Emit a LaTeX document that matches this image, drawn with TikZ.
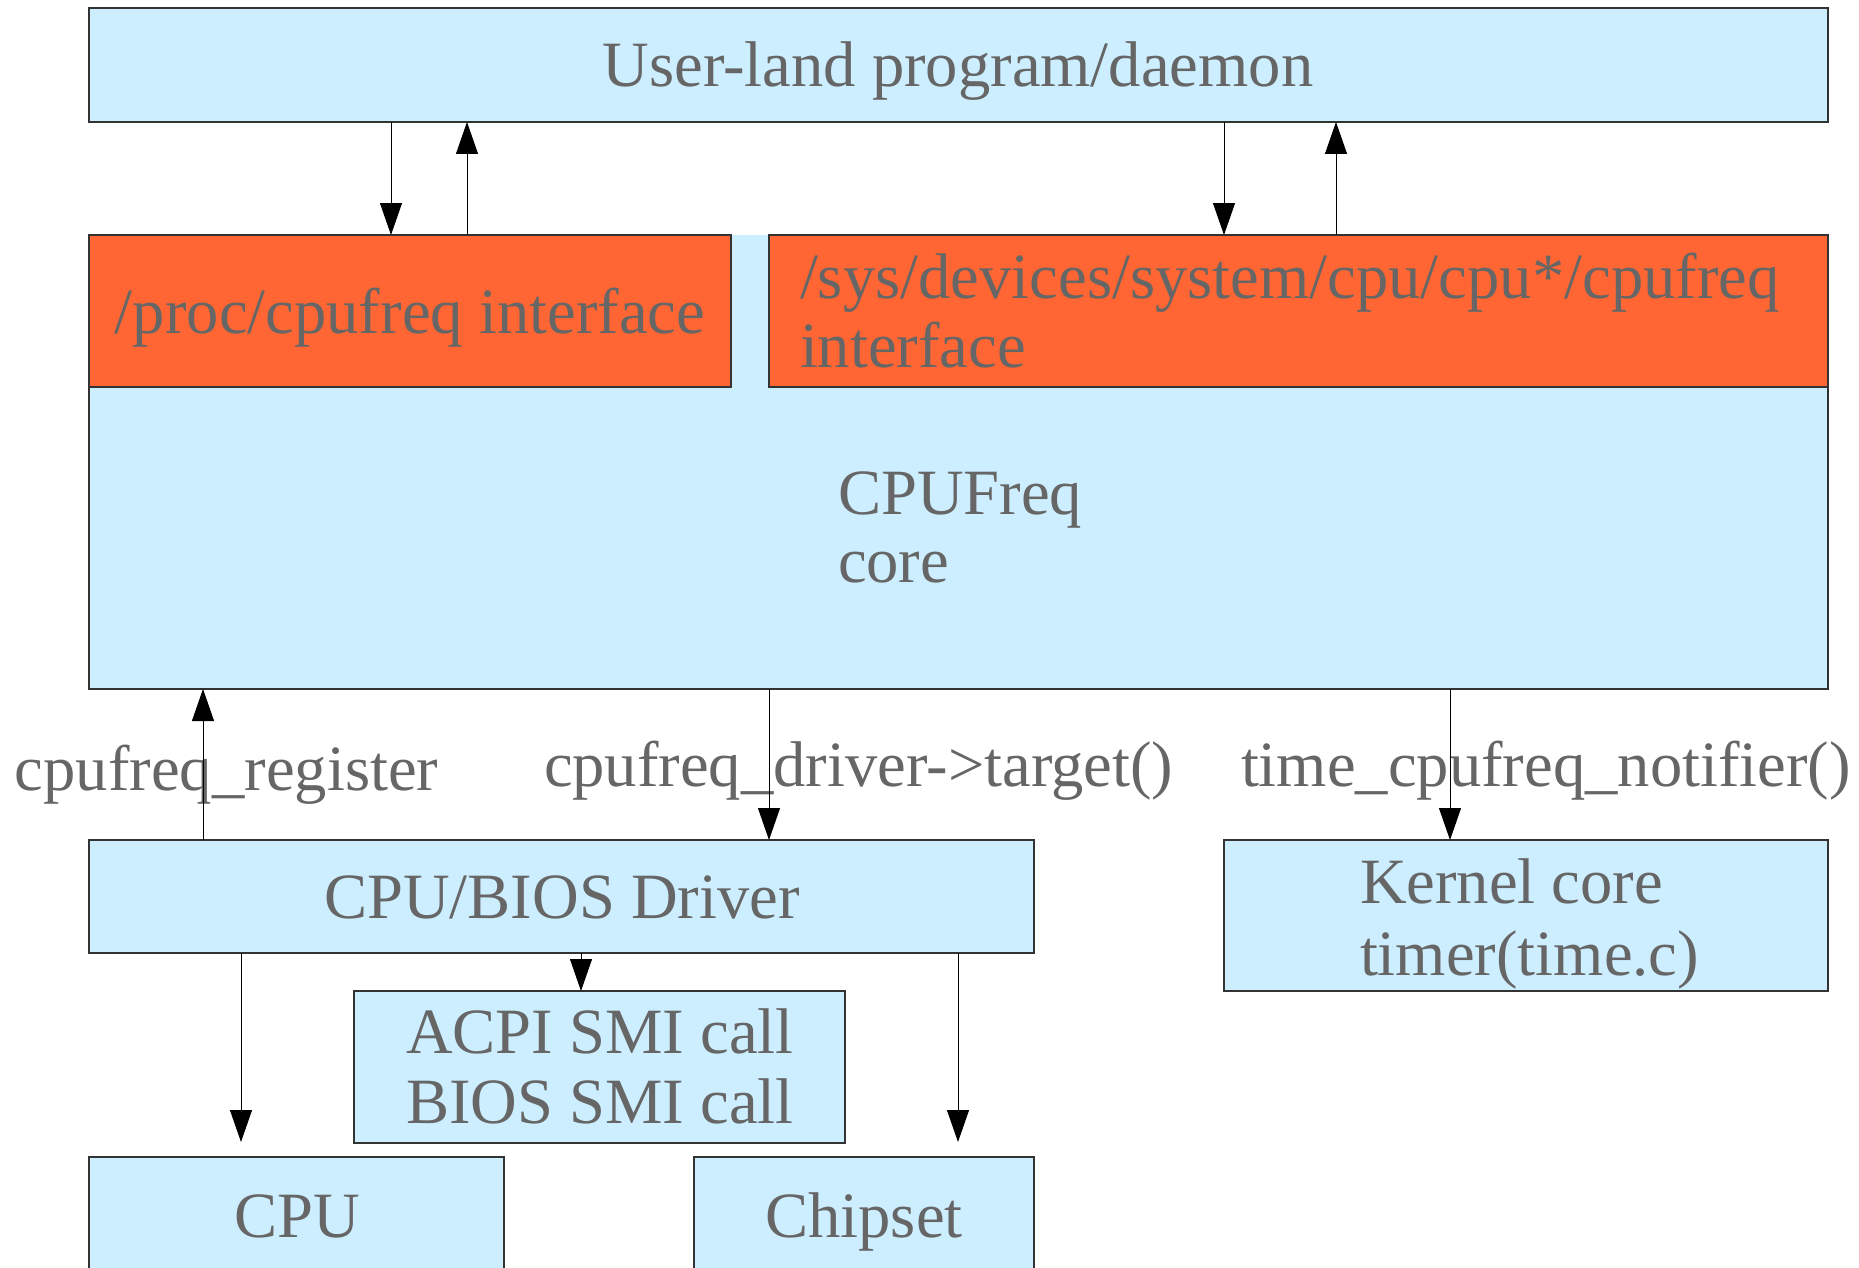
\documentclass[tikz,border=0pt]{standalone}
\usepackage{fontspec}
\setmainfont{Liberation Serif}
\usetikzlibrary{arrows.meta,calc}
\definecolor{boxblue}{HTML}{CCEEFF}
\definecolor{boxorange}{HTML}{FF6633}
\definecolor{txtgray}{HTML}{666666}
\definecolor{edgegray}{HTML}{333333}
\begin{document}
\begin{tikzpicture}[x=0.5pt,y=-0.5pt,
  box/.style={draw=edgegray,line width=0.75pt,fill=boxblue,inner sep=0pt,outer sep=0pt,anchor=north west},
  obox/.style={box,fill=boxorange},
  txt/.style={text=txtgray,font=\fontsize{32.3}{36}\selectfont,inner sep=0pt,outer sep=0pt},
  arr/.style={draw=black,line width=0.5pt,-{Triangle[length=16pt,width=11pt]}},
  edge/.style={draw=edgegray,line width=0.75pt}]
\useasboundingbox (0,0) rectangle (1859,1268);
\clip (0,0) rectangle (1859,1268);
% boxes
\node[box,minimum width=869.5pt,minimum height=57pt] (user) at (89,8) {};
\node[box,draw=none,minimum width=869.5pt,minimum height=227pt] (core) at (89,235) {};
\draw[edge] (core.north west) -- (core.south west) -- (core.south east) -- (core.north east);
\node[obox,minimum width=321pt,minimum height=76pt] (proc) at (89,235) {};
\node[obox,minimum width=529.5pt,minimum height=76pt] (sys) at (769,235) {};
\node[box,minimum width=472.5pt,minimum height=56.5pt] (drv) at (89,840) {};
\node[box,minimum width=302pt,minimum height=75.5pt] (kern) at (1224,840) {};
\node[box,minimum width=245.5pt,minimum height=76pt] (acpi) at (354,991) {};
\node[box,minimum width=207.5pt,minimum height=70pt] (cpu) at (89,1157) {};
\node[box,minimum width=170pt,minimum height=70pt] (chip) at (694,1157) {};
% texts
\node[txt,anchor=base] (tuser) at (958,87) {User-land program/daemon};
\node[txt,anchor=base] (tproc) at (410,333) {/proc/cpufreq interface};
\node[txt,anchor=base west] (tsys1) at (800,298) {/sys/devices/system/cpu/cpu*/cpufreq};
\node[txt,anchor=base west] (tsys2) at (800,367) {interface};
\node[txt,anchor=base west] (tcore1) at (838,514) {CPUFreq};
\node[txt,anchor=base west] (tcore2) at (838,582) {core};
\node[txt,anchor=base] (tdrv) at (562,918) {CPU/BIOS Driver};
\node[txt,anchor=base west] (tkern1) at (1360,903) {Kernel core};
\node[txt,anchor=base west] (tkern2) at (1360,975) {timer(time.c)};
\node[txt,anchor=base] (tacpi1) at (600,1053) {ACPI SMI call};
\node[txt,anchor=base] (tacpi2) at (600,1123) {BIOS SMI call};
\node[txt,anchor=base] (tcpu) at (297,1237) {CPU};
\node[txt,anchor=base] (tchip) at (864,1237) {Chipset};
% connector labels
\node[txt,anchor=base west] (lreg) at (15,790) {cpufreq\_register};
\node[txt,anchor=base west] (ltgt) at (544,786) {cpufreq\_driver->target()};
\node[txt,anchor=base west] (ltim) at (1241,786) {time\_cpufreq\_notifier()};
% x positions of connectors
\coordinate (xa) at (391,0);
\coordinate (xb) at (467,0);
\coordinate (xc) at (1224,0);
\coordinate (xd) at (1336,0);
\coordinate (xe) at (203,0);
\coordinate (xf) at (769,0);
\coordinate (xg) at (1450,0);
\coordinate (xh) at (581,0);
\coordinate (xi) at (241,0);
\coordinate (xj) at (958,0);
% connectors
\draw[arr] (user.south -| xa) -- (proc.north -| xa);
\draw[arr] (proc.north -| xb) -- (user.south -| xb);
\draw[arr] (user.south -| xc) -- (sys.north -| xc);
\draw[arr] (sys.north -| xd) -- (user.south -| xd);
\draw[arr] (drv.north -| xe) -- (core.south -| xe);
\draw[arr] (core.south -| xf) -- (drv.north -| xf);
\draw[arr] (core.south -| xg) -- (kern.north -| xg);
\draw[arr] (drv.south -| xh) -- (acpi.north -| xh);
\draw[arr] (drv.south -| xi) -- ($(cpu.north -| xi)+(0,-15)$);
\draw[arr] (drv.south -| xj) -- ($(chip.north -| xj)+(0,-15)$);
\end{tikzpicture}
\end{document}
